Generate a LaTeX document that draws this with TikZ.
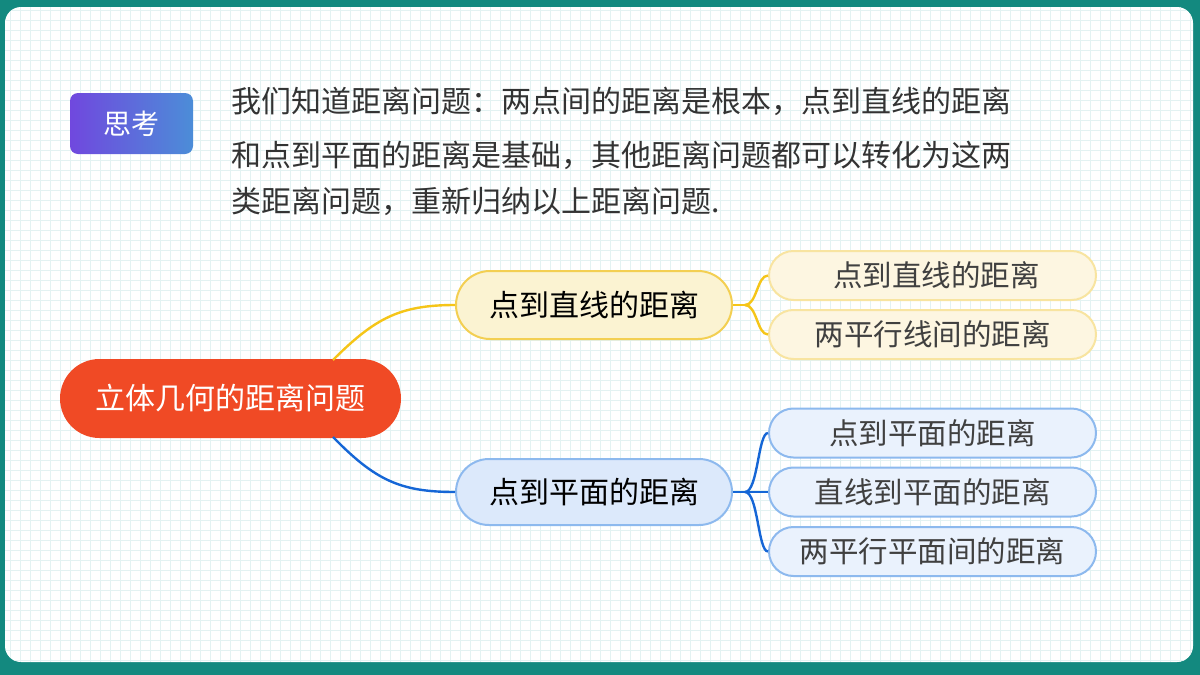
\documentclass[tikz,border=0pt]{standalone}
\usepackage{fontspec}
\setmainfont{Noto Sans CJK SC}
\usetikzlibrary{shapes.misc}
\definecolor{teal}{HTML}{13897F}
\definecolor{gridc}{HTML}{E3F2F2}
\definecolor{rootc}{HTML}{F04A25}
\definecolor{ylw}{HTML}{F5C518}
\definecolor{ylwfill}{HTML}{FBF3D2}
\definecolor{ylwleaf}{HTML}{FDF6E1}
\definecolor{ylwedge}{HTML}{F8E4A0}
\definecolor{ylwmid}{HTML}{F3CF52}
\definecolor{blu}{HTML}{1566D6}
\definecolor{blufill}{HTML}{DCE9FB}
\definecolor{bluleaf}{HTML}{EAF2FD}
\definecolor{bluedge}{HTML}{8DB9EE}
\definecolor{txt}{HTML}{333333}
\definecolor{leaftxt}{HTML}{404040}
\definecolor{purp}{HTML}{7048DE}
\definecolor{skyb}{HTML}{4C8DD8}
\tikzset{
  pill/.style={rounded rectangle, line width=2pt, inner sep=0pt},
  midy/.style={pill, draw=ylwmid, fill=ylwfill, minimum width=276pt, minimum height=68pt, font=\fontsize{30}{32}\selectfont, text=black},
  midb/.style={pill, draw=bluedge, fill=blufill, minimum width=276pt, minimum height=66pt, font=\fontsize{30}{32}\selectfont, text=black},
  leafy/.style={pill, draw=ylwedge, fill=ylwleaf, minimum width=327pt, minimum height=49pt, font=\fontsize{29.5}{31}\selectfont, text=leaftxt},
  leafb/.style={pill, draw=bluedge, fill=bluleaf, minimum width=327pt, minimum height=49pt, font=\fontsize{29.5}{31}\selectfont, text=leaftxt},
  para/.style={anchor=west, text=txt, font=\fontsize{30}{32}\selectfont, inner sep=0pt},
  ycon/.style={draw=ylw, line width=2.4pt},
  bcon/.style={draw=blu, line width=2.4pt},
}
\begin{document}
\begin{tikzpicture}[x=1pt,y=-1pt]
\useasboundingbox (0,0) rectangle (1200,675);
\fill[teal] (0,0) rectangle (1200,675);
\fill[white, rounded corners=16pt] (5,7) rectangle (1193,662);
\begin{scope}
\clip[rounded corners=16pt] (5,7) rectangle (1193,662);
\foreach \gx in {10,20,...,1190} \draw[gridc, line width=0.5pt] (\gx,7) -- (\gx,662);
\foreach \gy in {10,20,...,660} \draw[gridc, line width=0.5pt] (5,\gy) -- (1193,\gy);
\end{scope}
% think box
\shade[left color=purp, right color=skyb, rounded corners=8pt] (70,93) rectangle (193,154);
\node[text=white, font=\fontsize{28}{30}\selectfont] (think) at (131.5,123.5) {思考};
% paragraph
\node[para] (p1) at (231,101) {我们知道距离问题：两点间的距离是根本，点到直线的距离};
\node[para] (p2) at (231,155) {和点到平面的距离是基础，其他距离问题都可以转化为这两};
\node[para] (p3) at (231,201) {类距离问题，重新归纳以上距离问题.};
% connectors root
\coordinate (ra) at (333,360);
\coordinate (rb) at (333,437);
% nodes
\node[pill, fill=rootc, minimum width=341pt, minimum height=79pt, text=white, font=\fontsize{30}{32}\selectfont] (root) at (230.5,398.5) {立体几何的距离问题};
\node[midy] (m1) at (594,305) {点到直线的距离};
\node[midb] (m2) at (594,492) {点到平面的距离};
\draw[ycon] (ra) .. controls (375,318) and (400,305) .. (m1.west);
\draw[bcon] (rb) .. controls (375,480) and (400,492) .. (m2.west);
\node[leafy] (l1) at (932.5,275.5) {\hspace*{8pt}点到直线的距离};
\node[leafy] (l2) at (932.5,334.5) {两平行线间的距离};
\node[leafb] (l3) at (932.5,433) {点到平面的距离};
\node[leafb] (l4) at (932.5,492) {直线到平面的距离};
\node[leafb] (l5) at (932.5,551.5) {两平行平面间的距离};
\coordinate (jy) at (745,305);
\coordinate (jb) at (745,492);
\draw[ycon] (m1.east) -- (jy);
\draw[ycon] (jy) .. controls (757,305) and (757,275.5) .. (l1.west);
\draw[ycon] (jy) .. controls (757,305) and (757,334.5) .. (l2.west);
\draw[bcon] (m2.east) -- (jb);
\draw[bcon] (jb) .. controls (758,492) and (758,433) .. (l3.west);
\draw[bcon] (jb) -- (l4.west);
\draw[bcon] (jb) .. controls (758,492) and (758,551.5) .. (l5.west);
\end{tikzpicture}
\end{document}
